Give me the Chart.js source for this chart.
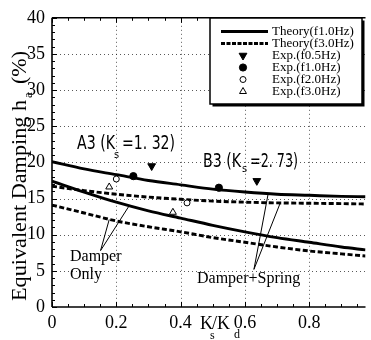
<!DOCTYPE html>
<html><head><meta charset="utf-8">
<script src="https://cdn.jsdelivr.net/npm/chart.js@4"></script>
<style>html,body{margin:0;padding:0;background:#fff}#wrap{width:371px;height:340px}</style>
</head><body><div id="wrap"><canvas id="c" width="371" height="340"></canvas></div>
<script>
// ---- data ----
const xSamples = [0, 0.1, 0.2, 0.3, 0.4, 0.5, 0.6, 0.7, 0.8, 0.9, 0.975];
const springTheoryF1 = [20.1, 19.1, 18.3, 17.5, 16.9, 16.3, 15.9, 15.6, 15.45, 15.3, 15.25];
const springTheoryF3 = [16.7, 16.1, 15.6, 15.2, 14.9, 14.65, 14.5, 14.4, 14.35, 14.3, 14.25];
const damperTheoryF1 = [17.4, 15.9, 14.5, 13.3, 12.3, 11.3, 10.4, 9.6, 8.95, 8.3, 7.9];
const damperTheoryF3 = [14.1, 13.0, 11.9, 11.1, 10.4, 9.6, 8.95, 8.3, 7.75, 7.35, 7.05];
const expF05X = [0.31, 0.637];  const expF05Y = [19.5, 17.45];
const expF10X = [0.253, 0.519]; const expF10Y = [18.1, 16.5];
const expF20X = [0.20, 0.42];   const expF20Y = [17.7, 14.4];
const expF30X = [0.178, 0.376]; const expF30Y = [16.6, 13.1];
const xTickValues = [0, 0.2, 0.4, 0.6, 0.8];
const xTickLabels = ['0', '0.2', '0.4', '0.6', '0.8'];
const yTickValues = [0, 5, 10, 15, 20, 25, 30, 35, 40];
const yTickLabels = ['0', '5', '10', '15', '20', '25', '30', '35', '40'];
const legendLabels = ['Theory(f1.0Hz)', 'Theory(f3.0Hz)', 'Exp.(f0.5Hz)', 'Exp.(f1.0Hz)', 'Exp.(f2.0Hz)', 'Exp.(f3.0Hz)'];
const xMax = 0.975;

const pts = (xs, ys) => xs.map((x, i) => ({x, y: ys[i]}));
const SERIF = '"Liberation Serif", "Times New Roman", serif';
const COND = '"DejaVu Sans Condensed", "Liberation Sans Narrow", "DejaVu Sans", sans-serif';

const markerStyles = [
  {pointStyle: 'triangle', rotation: 180, radius: 4.5, bg: '#000', bw: 1},
  {pointStyle: 'circle', rotation: 0, radius: 3.6, bg: '#000', bw: 1},
  {pointStyle: 'circle', rotation: 0, radius: 3, bg: '#fff', bw: 1},
  {pointStyle: 'triangle', rotation: 0, radius: 4, bg: '#fff', bw: 1}
];

function lineDs(label, data, dashed) {
  return {label, data: pts(xSamples, data), showLine: true, borderColor: '#000', borderWidth: 2.9,
    borderDash: dashed ? [5, 2.5] : [], pointRadius: 0, pointHoverRadius: 0, cubicInterpolationMode: 'monotone', fill: false, order: 2};
}
function markDs(label, xs, ys, m) {
  return {label, data: pts(xs, ys), showLine: false, pointStyle: m.pointStyle, rotation: m.rotation, pointRadius: m.radius,
    pointBackgroundColor: m.bg, pointBorderColor: '#000', pointBorderWidth: m.bw, order: 1};
}

function line(ctx, x1, y1, x2, y2) { ctx.beginPath(); ctx.moveTo(x1, y1); ctx.lineTo(x2, y2); ctx.stroke(); }
function fitText(ctx, text, x, y, w) {
  const mw = ctx.measureText(text).width;
  ctx.save(); ctx.translate(x, y); ctx.scale(w / mw, 1); ctx.fillText(text, 0, 0); ctx.restore();
}

const gridPlugin = {
  id: 'gridPlugin',
  beforeDatasetsDraw(chart) {
    const {ctx, chartArea: a, scales: {x, y}} = chart;
    ctx.save();
    ctx.strokeStyle = 'rgba(0,0,0,0.65)'; ctx.lineWidth = 1; ctx.setLineDash([1, 3]);
    x.ticks.forEach(t => { const px = Math.round(x.getPixelForValue(t.value)) + 0.5; if (t.value > 0) line(ctx, px, a.top, px, a.bottom); });
    y.ticks.forEach(t => { const py = Math.round(y.getPixelForValue(t.value)) + 0.5; if (t.value > 0 && t.value < 40) line(ctx, a.left, py, a.right, py); });
    ctx.restore();
  },
  afterDraw(chart) {
    const {ctx, chartArea: a, scales: {x, y}} = chart;
    ctx.save();
    ctx.strokeStyle = '#000'; ctx.lineWidth = 1;
    for (let i = 0; i <= 40; i++) {
      const py = Math.round(y.getPixelForValue(i)) + 0.5;
      line(ctx, a.left, py, a.left + (i % 5 === 0 ? 5 : 3), py);
    }
    for (let i = 0; i * 0.05 <= xMax; i++) {
      const px = Math.round(x.getPixelForValue(i * 0.05)) + 0.5;
      const len = i % 4 === 0 ? 5 : 3;
      line(ctx, px, a.bottom, px, a.bottom - len);
      line(ctx, px, a.top, px, a.top + len);
    }
    ctx.lineWidth = 1.6;
    line(ctx, a.left, a.top, a.left, a.bottom);
    line(ctx, a.left, a.bottom, a.right, a.bottom);
    line(ctx, a.left, a.top, a.right, a.top);

    // pointer lines
    ctx.lineWidth = 1;
    const P = (vx, vy) => [x.getPixelForValue(vx), y.getPixelForValue(vy)];
    let ap = P(0.151, 7.8), e1 = P(0.24, 14.0), e2 = P(0.178, 12.1);
    line(ctx, ap[0], ap[1], e1[0], e1[1]); line(ctx, ap[0], ap[1], e2[0], e2[1]);
    ap = P(0.628, 5.2); e1 = P(0.672, 15.6); e2 = P(0.71, 14.4);
    line(ctx, ap[0], ap[1], e1[0], e1[1]); line(ctx, ap[0], ap[1], e2[0], e2[1]);

    // annotation texts
    ctx.fillStyle = '#000'; ctx.textBaseline = 'alphabetic'; ctx.textAlign = 'left';
    ctx.font = '16px ' + SERIF;
    ctx.fillText('Damper', 70, 261);
    ctx.fillText('Only', 70, 279);
    ctx.fillText('Damper+Spring', 197, 283);

    ctx.font = '19px ' + COND;
    fitText(ctx, 'A3 (K', 77, 149, 38);
    fitText(ctx, '=1. 32)', 122, 149, 53);
    fitText(ctx, 'B3 (K', 203, 167, 38);
    fitText(ctx, '=2. 73)', 250, 167, 48);
    ctx.font = '11px ' + COND;
    ctx.fillText('s', 114, 158);
    ctx.fillText('s', 242, 172);

    // axis titles
    ctx.font = '18px ' + SERIF;
    ctx.fillText('K', 200, 329);
    ctx.fillText('/K', 212, 329);
    ctx.font = '12px ' + SERIF;
    ctx.fillText('s', 210, 339);
    ctx.fillText('d', 234, 338);

    ctx.save();
    ctx.translate(26, 301); ctx.rotate(-Math.PI / 2);
    ctx.font = '20px ' + SERIF;
    fitText(ctx, 'Equivalent Damping h', 0, 0, 201);
    ctx.font = '13px ' + SERIF;
    ctx.fillText('a', 203, 6);
    ctx.font = '20px ' + SERIF;
    fitText(ctx, '(%)', 217, 0, 33);
    ctx.restore();

    // legend box
    const L = 210, T = 18, W = 152, H = 86;
    ctx.fillStyle = '#000'; ctx.fillRect(L + 2.5, T + 2.5, W, H);
    ctx.fillStyle = '#fff'; ctx.fillRect(L, T, W, H);
    ctx.lineWidth = 1.5; ctx.strokeStyle = '#000'; ctx.strokeRect(L, T, W, H);
    const rows = [31.5, 43.5, 55.5, 67.5, 79.5, 91.5];
    ctx.font = '13px ' + SERIF; ctx.textBaseline = 'middle'; ctx.fillStyle = '#000';
    legendLabels.forEach((lab, i) => {
      const ry = rows[i];
      ctx.fillText(lab, 272, ry + 0.5);
      if (i < 2) {
        ctx.save(); ctx.lineWidth = 2.8; ctx.setLineDash(i === 1 ? [4, 1.5] : []);
        line(ctx, 221, ry, 268, ry); ctx.restore();
      } else {
        const m = markerStyles[i - 2];
        ctx.save(); ctx.fillStyle = m.bg; ctx.strokeStyle = '#000'; ctx.lineWidth = m.bw; ctx.setLineDash([]);
        Chart.helpers.drawPoint(ctx, {pointStyle: m.pointStyle, rotation: m.rotation, radius: m.radius, borderWidth: m.bw}, 243, ry);
        ctx.restore();
      }
    });
    ctx.restore();
  }
};

new Chart(document.getElementById('c'), {
  type: 'scatter',
  data: {
    datasets: [
      lineDs(legendLabels[0] + ' D+S', springTheoryF1, false),
      lineDs(legendLabels[1] + ' D+S', springTheoryF3, true),
      lineDs(legendLabels[0] + ' D', damperTheoryF1, false),
      lineDs(legendLabels[1] + ' D', damperTheoryF3, true),
      markDs(legendLabels[2], expF05X, expF05Y, markerStyles[0]),
      markDs(legendLabels[3], expF10X, expF10Y, markerStyles[1]),
      markDs(legendLabels[4], expF20X, expF20Y, markerStyles[2]),
      markDs(legendLabels[5], expF30X, expF30Y, markerStyles[3])
    ]
  },
  options: {
    responsive: false, animation: false, devicePixelRatio: 1,
    layout: {padding: {top: 7, right: 2, left: 0, bottom: 0}},
    plugins: {legend: {display: false}, tooltip: {enabled: false}, title: {display: false}},
    scales: {
      x: {
        type: 'linear', min: 0, max: xMax,
        afterBuildTicks: s => { s.ticks = xTickValues.map(v => ({value: v})); },
        afterFit: s => { s.height = 33; },
        grid: {display: false, drawTicks: false}, border: {display: false},
        ticks: {padding: 5, color: '#000', font: {family: SERIF, size: 18}, maxRotation: 0, autoSkip: false,
          callback: (v) => { const i = xTickValues.indexOf(v); return i >= 0 ? xTickLabels[i] : ''; }}
      },
      y: {
        type: 'linear', min: 0, max: 40,
        afterBuildTicks: s => { s.ticks = yTickValues.map(v => ({value: v})); },
        afterFit: s => { s.width = 52; },
        grid: {display: false, drawTicks: false}, border: {display: false},
        ticks: {padding: 7, color: '#000', font: {family: SERIF, size: 18}, autoSkip: false,
          callback: (v) => { const i = yTickValues.indexOf(v); return i >= 0 ? yTickLabels[i] : ''; }}
      }
    }
  },
  plugins: [gridPlugin]
});
</script></body></html>
